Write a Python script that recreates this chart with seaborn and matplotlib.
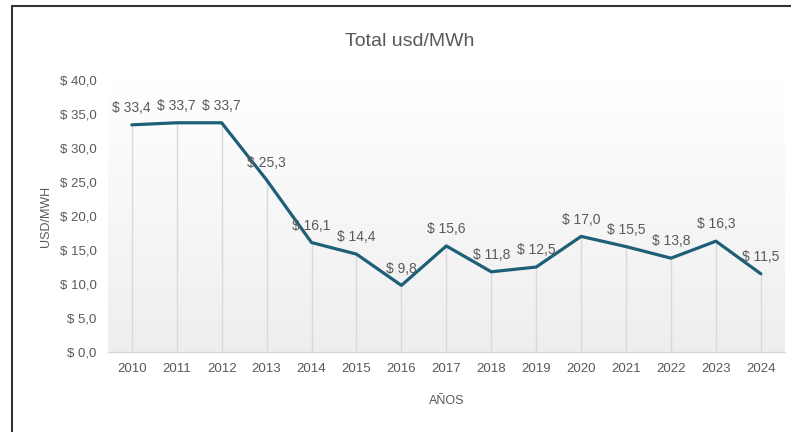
import numpy as np
import pandas as pd
import seaborn as sns
import matplotlib.pyplot as plt
from matplotlib.lines import Line2D

# datos
years = [2010, 2011, 2012, 2013, 2014, 2015, 2016, 2017, 2018, 2019, 2020, 2021, 2022, 2023, 2024]
usd_mwh = [33.4, 33.7, 33.7, 25.3, 16.1, 14.4, 9.8, 15.6, 11.8, 12.5, 17.0, 15.5, 13.8, 16.3, 11.5]
y_ticks = [0, 5, 10, 15, 20, 25, 30, 35, 40]

df = pd.DataFrame({"year": years, "usd": usd_mwh})

sns.set_theme(style="white")
plt.rcParams["font.family"] = ["Liberation Sans Narrow", "Liberation Sans", "DejaVu Sans"]
gray = "#595959"
line_color = "#1e5f78"

fig = plt.figure(figsize=(7.91, 4.32), dpi=100)
ax = fig.add_axes([0.1365, 0.185, 0.8555, 0.63])

# fondo con degradado suave
grad = np.linspace(0, 1, 256).reshape(-1, 1)
ax.imshow(grad, extent=(2009.47, 2024.53, 0, 40), aspect="auto",
          cmap=plt.matplotlib.colors.LinearSegmentedColormap.from_list("g", ["#eeeeee", "#ffffff"]),
          origin="lower", zorder=0)

# lineas de caida
ax.vlines(df["year"], 0, df["usd"], color="#d9d9d9", lw=1, zorder=1)

sns.lineplot(data=df, x="year", y="usd", color=line_color, lw=2.3, ax=ax, zorder=3)

for x, v in zip(years, usd_mwh):
    ax.annotate(f"$ {v:.1f}".replace(".", ","), (x, v), xytext=(0, 7), textcoords="offset points",
                ha="center", va="bottom", fontsize=10, color=gray)

ax.set_xlim(2009.47, 2024.53)
ax.set_ylim(0, 40)
ax.set_xticks(years)
ax.set_xticklabels([str(y) for y in years], fontsize=9.5, color=gray)
ax.set_yticks(y_ticks)
ax.set_yticklabels([f"$ {t:.1f}".replace(".", ",") for t in y_ticks], fontsize=9.5, color=gray)
ax.tick_params(axis="both", length=0, pad=8)

for s in ["top", "right", "left"]:
    ax.spines[s].set_visible(False)
ax.spines["bottom"].set_color("#d9d9d9")
ax.spines["bottom"].set_linewidth(1)

ax.set_xlabel("AÑOS", fontsize=9, color=gray, labelpad=14)
ax.set_ylabel("USD/MWH", fontsize=9, color=gray, labelpad=6)
fig.text(0.518, 0.905, "Total usd/MWh", ha="center", va="center", fontsize=14, color=gray)

# marco de la captura
fig.add_artist(Line2D([12 / 791, 12 / 791], [0, 1 - 6 / 432], color="#333333", lw=1.5))
fig.add_artist(Line2D([12 / 791, 1], [1 - 6 / 432, 1 - 6 / 432], color="#333333", lw=1.5))

fig.savefig("out.png", dpi=100)
